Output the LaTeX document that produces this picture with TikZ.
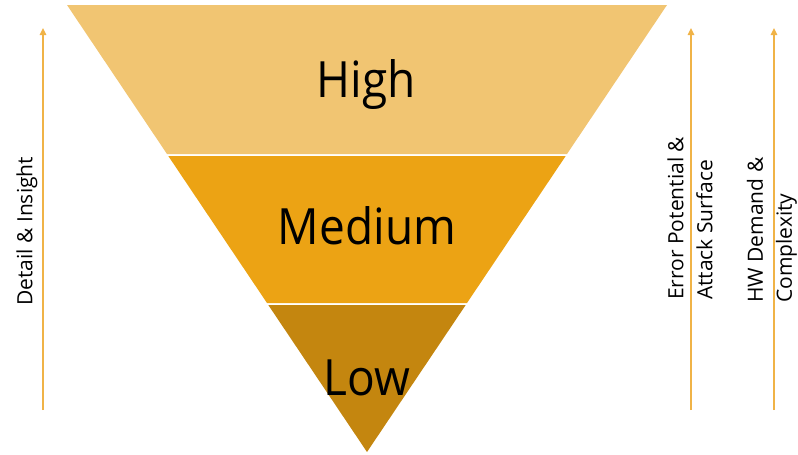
\documentclass[tikz,border=0pt]{standalone}
\usepackage{fontspec}
\setmainfont{Open Sans}
\usetikzlibrary{arrows.meta}
\definecolor{bandhigh}{HTML}{F1C572}
\definecolor{bandmed}{HTML}{ECA314}
\definecolor{bandlow}{HTML}{C4860F}
\definecolor{axiscol}{HTML}{F0B347}
\tikzset{
  bandlabel/.style={font=\fontsize{50}{60}\selectfont, text=black, inner sep=0pt, anchor=base, xscale=0.92},
  axislabel/.style={font=\fontsize{21}{29}\selectfont, text=black, inner sep=0pt, rotate=90, align=left, anchor=west},
  axisarrow/.style={draw=axiscol, line width=1.5pt, -{Triangle[width=6.5pt,length=7pt,fill=axiscol]}}
}
\begin{document}
\begin{tikzpicture}[x=1pt,y=-1pt]
\useasboundingbox (0,0) rectangle (798,455);
% bands
\fill[bandhigh] (67,5) -- (667,5) -- (567,154) -- (167,154) -- cycle;
\fill[bandmed] (168.3,156) -- (565.7,156) -- (467,303) -- (267,303) -- cycle;
\fill[bandlow] (268.3,305) -- (465.7,305) -- (367,452) -- cycle;
% band labels
\node[bandlabel] (high) at (366,97) {High};
\node[bandlabel] (medium) at (367,244) {Medium};
\node[bandlabel] (low) at (367,395) {Low};
% axes
\coordinate (a1s) at (43,410); \coordinate (a1e) at (43,28);
\coordinate (a2s) at (691,410); \coordinate (a2e) at (691,28);
\coordinate (a3s) at (774,410); \coordinate (a3e) at (774,28);
\draw[axisarrow] (a1s) -- (a1e);
\draw[axisarrow] (a2s) -- (a2e);
\draw[axisarrow] (a3s) -- (a3e);
% axis labels
\node[axislabel] (detail) at (27,306) {Detail \& Insight};
\node[axislabel] (error) at (690,300) {Error Potential \&\\Attack Surface};
\node[axislabel] (hw) at (772,303) {HW Demand \&\\Complexity};
\end{tikzpicture}
\end{document}
